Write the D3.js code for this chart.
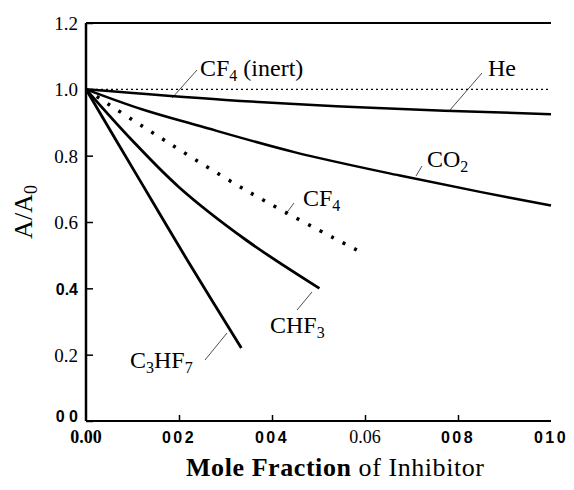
<!DOCTYPE html>
<html>
<head>
<meta charset="utf-8">
<script src="https://cdn.jsdelivr.net/npm/d3@7"></script>
<style>
  body { margin: 0; background: #fff; }
  svg { display: block; }
</style>
</head>
<body>
<div id="chart"></div>
<script>
// canvas size
const width = 574;
const height = 490;

// tick values and the labels as printed
const xTicks = [0, 0.02, 0.04, 0.06, 0.08, 0.10];
const xTickLabels = ["0.00", "002", "004", "0.06", "008", "010"];
const xTickBold = [true, true, true, false, true, true];
const xTickSans = [false, true, true, false, true, true];

const yTicks = [0, 0.2, 0.4, 0.6, 0.8, 1.0, 1.2];
const yTickLabels = ["0 0", "0.2", "0.4", "0.6", "0.8", "1.0", "1.2"];
const yTickSans = [true, false, true, false, false, false, false];

// series: mole fraction vs A/A0
const inertX = [0, 0.10];
const inertY = [1.0, 1.0];

const heX = [0, 0.03, 0.06, 0.10];
const heY = [1.0, 0.968, 0.945, 0.925];

const co2X = [0, 0.012, 0.0243, 0.045, 0.0675, 0.085, 0.10];
const co2Y = [1.0, 0.94, 0.89, 0.81, 0.74, 0.69, 0.65];

const cf4X = [0, 0.012, 0.0351, 0.059];
const cf4Y = [1.0, 0.89, 0.69, 0.51];

const chf3X = [0, 0.01, 0.02, 0.0345, 0.0502];
const chf3Y = [1.0, 0.845, 0.705, 0.545, 0.40];

const c3hf7X = [0, 0.0114, 0.022, 0.0334];
const c3hf7Y = [1.0, 0.73, 0.48, 0.22];

const svg = d3.select("#chart")
  .append("svg")
  .attr("width", width)
  .attr("height", height);

const x = d3.scaleLinear().domain([0, 0.10]).range([86, 551]);
const y = d3.scaleLinear().domain([0, 1.2]).range([421, 23]);

const serif = "'Liberation Serif', 'Times New Roman', serif";
const sans = "'Liberation Sans', Arial, sans-serif";

// frame: left axis, bottom axis, top line
svg.append("line")
  .attr("x1", x(0)).attr("x2", x(0.10))
  .attr("y1", y(1.2)).attr("y2", y(1.2))
  .attr("stroke", "#000").attr("stroke-width", 2);

const yAxis = svg.append("g")
  .attr("transform", `translate(${x(0)},0)`)
  .call(d3.axisRight(y).tickValues(yTicks).tickSize(7).tickFormat(""));
yAxis.select(".domain").attr("stroke-width", 2.5).attr("d", `M0,${y(0)}V${y(1.2)}`);
yAxis.selectAll(".tick line").attr("stroke-width", 1.5);

const xAxis = svg.append("g")
  .attr("transform", `translate(0,${y(0)})`)
  .call(d3.axisTop(x).tickValues(xTicks.slice(1, 5)).tickSize(6).tickFormat(""));
xAxis.select(".domain").attr("stroke-width", 2).attr("d", `M${x(0)},0H${x(0.10)}`);
xAxis.selectAll(".tick line").attr("stroke-width", 1.5);

// tick labels
svg.append("g").selectAll("text")
  .data(yTicks)
  .enter()
  .append("text")
  .attr("x", 78)
  .attr("y", d => d === 0 ? y(d) + 1 : y(d) + 7)
  .attr("text-anchor", "end")
  .attr("font-family", (d, i) => yTickSans[i] ? sans : serif)
  .attr("font-weight", (d, i) => yTickSans[i] ? "bold" : "normal")
  .attr("font-size", (d, i) => yTickSans[i] ? "16px" : "19px")
  .text((d, i) => yTickLabels[i]);

svg.append("g").selectAll("text")
  .data(xTicks)
  .enter()
  .append("text")
  .attr("x", d => x(d))
  .attr("y", 443)
  .attr("text-anchor", "middle")
  .attr("font-family", (d, i) => xTickSans[i] ? sans : serif)
  .attr("font-weight", (d, i) => xTickBold[i] ? "bold" : "normal")
  .attr("font-size", (d, i) => xTickSans[i] ? "16px" : "18px")
  .attr("letter-spacing", (d, i) => xTickSans[i] ? "2.5px" : "0px")
  .text((d, i) => xTickLabels[i]);

// axis titles
const xTitle = svg.append("text")
  .attr("x", 186)
  .attr("y", 476)
  .attr("font-family", serif)
  .attr("font-size", "26px")
  .attr("textLength", 298)
  .attr("lengthAdjust", "spacing");
xTitle.append("tspan").attr("font-weight", "bold").text("Mole Fraction ");
xTitle.append("tspan").text("of Inhibitor");

const yTitle = svg.append("text")
  .attr("transform", "translate(32,212) rotate(-90)")
  .attr("text-anchor", "middle")
  .attr("font-family", serif)
  .attr("font-size", "26px");
yTitle.append("tspan").text("A/A");
yTitle.append("tspan").attr("font-size", "18px").attr("dy", 5).text("0");

// curves
const line = d3.line()
  .x(d => x(d[0]))
  .y(d => y(d[1]))
  .curve(d3.curveCatmullRom.alpha(0.5));

const series = [
  {xs: inertX, ys: inertY, width: 1.3, dash: "2,3"},
  {xs: heX, ys: heY, width: 2.5, dash: null},
  {xs: co2X, ys: co2Y, width: 2.5, dash: null},
  {xs: cf4X, ys: cf4Y, width: 3.5, dash: "3,10"},
  {xs: chf3X, ys: chf3Y, width: 2.8, dash: null},
  {xs: c3hf7X, ys: c3hf7Y, width: 2.8, dash: null}
];

svg.append("g").selectAll("path")
  .data(series)
  .enter()
  .append("path")
  .attr("d", s => line(s.xs.map((v, i) => [v, s.ys[i]])))
  .attr("fill", "none")
  .attr("stroke", "#000")
  .attr("stroke-width", s => s.width)
  .attr("stroke-dasharray", s => s.dash);

// labels with thin leader lines
const labels = [
  {main: "CF", sub: "4", rest: " (inert)", tx: 200, ty: 76, lx1: 197, ly1: 70, lx2: 172, ly2: 98},
  {main: "He", sub: "", rest: "", tx: 488, ty: 76, lx1: 482, ly1: 73, lx2: 450, ly2: 110},
  {main: "CO", sub: "2", rest: "", tx: 427, ty: 167, lx1: 422, ly1: 166, lx2: 416, ly2: 176},
  {main: "CF", sub: "4", rest: "", tx: 303, ty: 206, lx1: 294, ly1: 203, lx2: 285, ly2: 215},
  {main: "CHF", sub: "3", rest: "", tx: 270, ty: 333, lx1: 312, ly1: 292, lx2: 297, ly2: 310},
  {main: "C", sub: "3", rest: "HF", sub2: "7", tx: 130, ty: 368, lx1: 227, ly1: 333, lx2: 205, ly2: 360}
];

svg.append("g").selectAll("line")
  .data(labels)
  .enter()
  .append("line")
  .attr("x1", d => d.lx1).attr("y1", d => d.ly1)
  .attr("x2", d => d.lx2).attr("y2", d => d.ly2)
  .attr("stroke", "#000")
  .attr("stroke-width", 0.7);

labels.forEach(d => {
  const t = svg.append("text")
    .attr("x", d.tx)
    .attr("y", d.ty)
    .attr("font-family", serif)
    .attr("font-size", "24px");
  t.append("tspan").text(d.main);
  if (d.sub) t.append("tspan").attr("font-size", "16px").attr("dy", 5).text(d.sub);
  if (d.rest) t.append("tspan").attr("dy", d.sub ? -5 : 0).text(d.rest);
  if (d.sub2) t.append("tspan").attr("font-size", "16px").attr("dy", 5).text(d.sub2);
});
</script>
</body>
</html>
